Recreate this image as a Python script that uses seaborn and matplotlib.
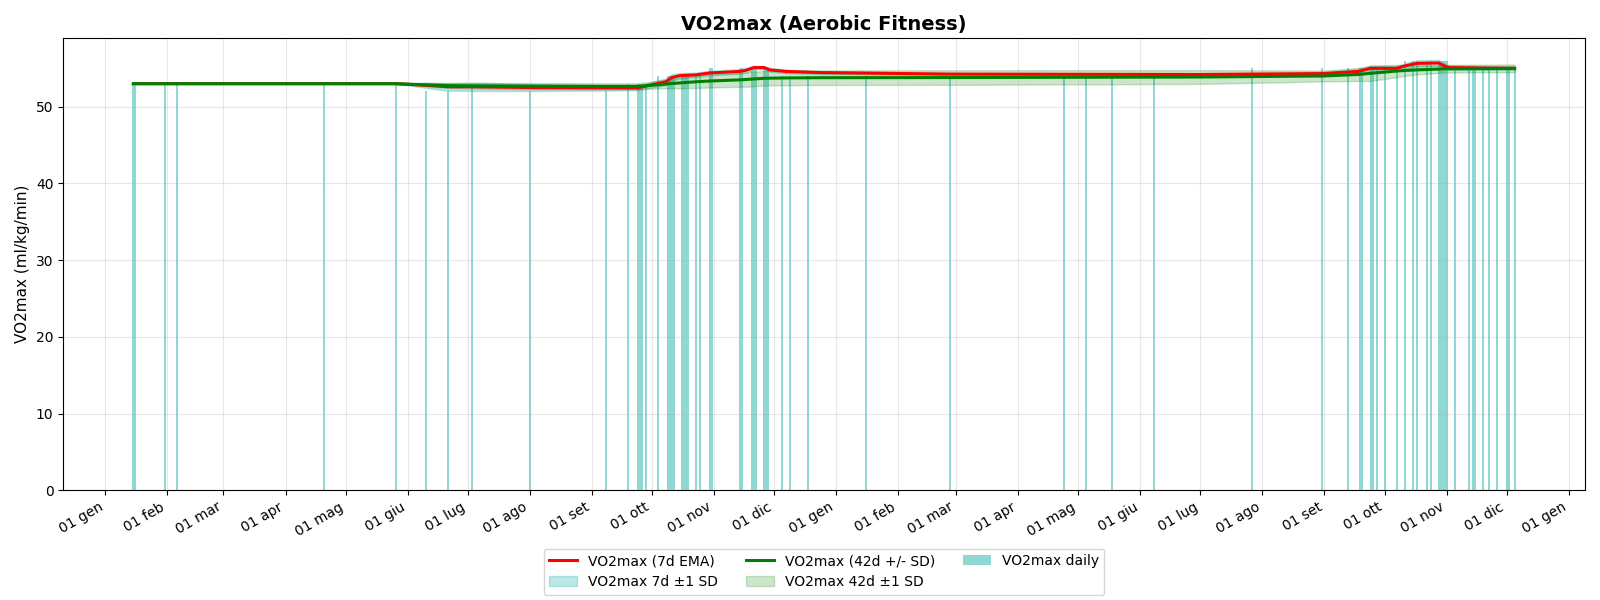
import pandas as pd
import numpy as np
import matplotlib
matplotlib.use("Agg")
import matplotlib.pyplot as plt
import matplotlib.dates as mdates
from matplotlib.ticker import FuncFormatter
import seaborn as sns

# daily VO2max readings (bars)
daily_dates = [
    "2023-01-15", "2023-01-16", "2023-01-31", "2023-02-06", "2023-04-20", "2023-05-26",
    "2023-06-10", "2023-06-21", "2023-07-03", "2023-08-01", "2023-09-08", "2023-09-19",
    "2023-09-24", "2023-09-25", "2023-09-26", "2023-09-28", "2023-10-04",
    "2023-10-09", "2023-10-10", "2023-10-11", "2023-10-12",
    "2023-10-16", "2023-10-17", "2023-10-18", "2023-10-19",
    "2023-10-23", "2023-10-25", "2023-10-30", "2023-10-31", "2023-11-14", "2023-11-15",
    "2023-11-20", "2023-11-21", "2023-11-22", "2023-11-26", "2023-11-27", "2023-11-28",
    "2023-12-05", "2023-12-09", "2023-12-18",
    "2024-01-16", "2024-02-27", "2024-04-24", "2024-05-05", "2024-05-18", "2024-06-08",
    "2024-07-27", "2024-08-31", "2024-09-13", "2024-09-19", "2024-09-20", "2024-09-24",
    "2024-09-25", "2024-09-27", "2024-10-01", "2024-10-07", "2024-10-11", "2024-10-15",
    "2024-10-17", "2024-10-22", "2024-10-24", "2024-10-28", "2024-10-29", "2024-10-30",
    "2024-10-31", "2024-11-01", "2024-11-05", "2024-11-12", "2024-11-14", "2024-11-15",
    "2024-11-19", "2024-11-22", "2024-11-26", "2024-12-01", "2024-12-02", "2024-12-05",
]
daily_vo2 = [
    53, 53, 53, 53, 53, 53,
    52, 52, 53, 52, 52, 53,
    53, 53, 53, 53, 54,
    54, 54, 54, 54,
    54, 54, 54, 54,
    54, 54, 55, 55, 55, 55,
    55, 55, 55, 55, 55, 55,
    54, 54, 54,
    54, 54, 54, 54, 54, 54,
    55, 55, 55, 55, 55, 55,
    55, 55, 55, 55, 56, 56,
    56, 56, 56, 56, 56, 56,
    56, 56, 55, 55, 55, 55,
    55, 55, 55, 55, 55, 55,
]

# trend lines
trend_dates = [
    "2023-01-15", "2023-05-26", "2023-06-10", "2023-06-21", "2023-07-03", "2023-08-01",
    "2023-09-08", "2023-09-24", "2023-09-30", "2023-10-08", "2023-10-11", "2023-10-15",
    "2023-10-23", "2023-10-30", "2023-11-14", "2023-11-17", "2023-11-21", "2023-11-26",
    "2023-11-29", "2023-12-07", "2023-12-24", "2024-02-27", "2024-06-30", "2024-08-20",
    "2024-08-31", "2024-09-18", "2024-09-24", "2024-10-07", "2024-10-11", "2024-10-17",
    "2024-10-28", "2024-10-31", "2024-11-02", "2024-12-05",
]
ema7 = [
    53.0, 53.0, 52.8, 52.6, 52.6, 52.5,
    52.45, 52.45, 52.8, 53.25, 53.8, 54.05,
    54.15, 54.4, 54.6, 54.75, 55.1, 55.1,
    54.8, 54.6, 54.45, 54.25, 54.2, 54.3,
    54.32, 54.6, 55.0, 55.0, 55.3, 55.65,
    55.7, 55.3, 55.1, 55.0,
]
sd7 = [
    0.0, 0.0, 0.35, 0.5, 0.55, 0.45,
    0.35, 0.3, 0.35, 0.45, 0.45, 0.35,
    0.3, 0.3, 0.3, 0.3, 0.25, 0.2,
    0.25, 0.25, 0.2, 0.15, 0.1, 0.1,
    0.15, 0.3, 0.35, 0.3, 0.35, 0.4,
    0.4, 0.35, 0.3, 0.2,
]
ma42 = [
    53.0, 53.0, 52.85, 52.75, 52.72, 52.68,
    52.65, 52.65, 52.78, 52.95, 53.02, 53.1,
    53.25, 53.35, 53.5, 53.55, 53.62, 53.7,
    53.72, 53.75, 53.78, 53.8, 53.87, 53.98,
    54.0, 54.2, 54.35, 54.65, 54.72, 54.8,
    54.9, 54.95, 54.95, 55.0,
]
sd42 = [
    0.0, 0.0, 0.2, 0.3, 0.35, 0.4,
    0.4, 0.4, 0.45, 0.55, 0.6, 0.7,
    0.8, 0.85, 0.9, 0.95, 0.95, 0.95,
    0.95, 0.95, 0.95, 0.95, 0.9, 0.75,
    0.7, 0.85, 1.0, 0.8, 0.7, 0.6,
    0.5, 0.5, 0.5, 0.5,
]

mesi = ["gen", "feb", "mar", "apr", "mag", "giu", "lug", "ago", "set", "ott", "nov", "dic"]

daily = pd.DataFrame({"date": pd.to_datetime(daily_dates), "vo2": daily_vo2})
trend = pd.DataFrame({
    "date": pd.to_datetime(trend_dates),
    "ema7": ema7, "sd7": sd7, "ma42": ma42, "sd42": sd42,
})

fig, ax = plt.subplots(figsize=(16, 6), dpi=100)

bars = ax.bar(daily["date"], daily["vo2"], width=1.0, color="lightseagreen",
              alpha=0.5, label="VO2max daily")

band7 = ax.fill_between(trend["date"], trend["ema7"] - trend["sd7"], trend["ema7"] + trend["sd7"],
                        color="lightseagreen", alpha=0.3, label="VO2max 7d ±1 SD")
band42 = ax.fill_between(trend["date"], trend["ma42"] - trend["sd42"], trend["ma42"] + trend["sd42"],
                         color="green", alpha=0.2, label="VO2max 42d ±1 SD")

sns.lineplot(data=trend, x="date", y="ema7", color="red", linewidth=2.2, ax=ax,
             label="VO2max (7d EMA)")
sns.lineplot(data=trend, x="date", y="ma42", color="green", linewidth=2.2, ax=ax,
             label="VO2max (42d +/- SD)")

ax.set_title("VO2max (Aerobic Fitness)", fontsize=14, fontweight="bold")
ax.set_ylabel("VO2max (ml/kg/min)", fontsize=11)
ax.set_xlabel("")
ax.grid(True, alpha=0.3)

ax.xaxis.set_major_locator(mdates.MonthLocator())
ax.xaxis.set_major_formatter(FuncFormatter(
    lambda x, pos: f"{mdates.num2date(x).day:02d} {mesi[mdates.num2date(x).month - 1]}"))
plt.setp(ax.get_xticklabels(), rotation=30, ha="right")

handles, labels = ax.get_legend_handles_labels()
lookup = dict(zip(labels, handles))
order = ["VO2max (7d EMA)", "VO2max 7d ±1 SD", "VO2max (42d +/- SD)",
         "VO2max 42d ±1 SD", "VO2max daily"]
ax.legend([lookup[k] for k in order], order, loc="upper center",
          bbox_to_anchor=(0.5, -0.114), ncol=3, fontsize=10)

fig.subplots_adjust(left=0.0395, right=0.9905, top=0.936, bottom=0.183)
fig.savefig("out.png", dpi=100)
